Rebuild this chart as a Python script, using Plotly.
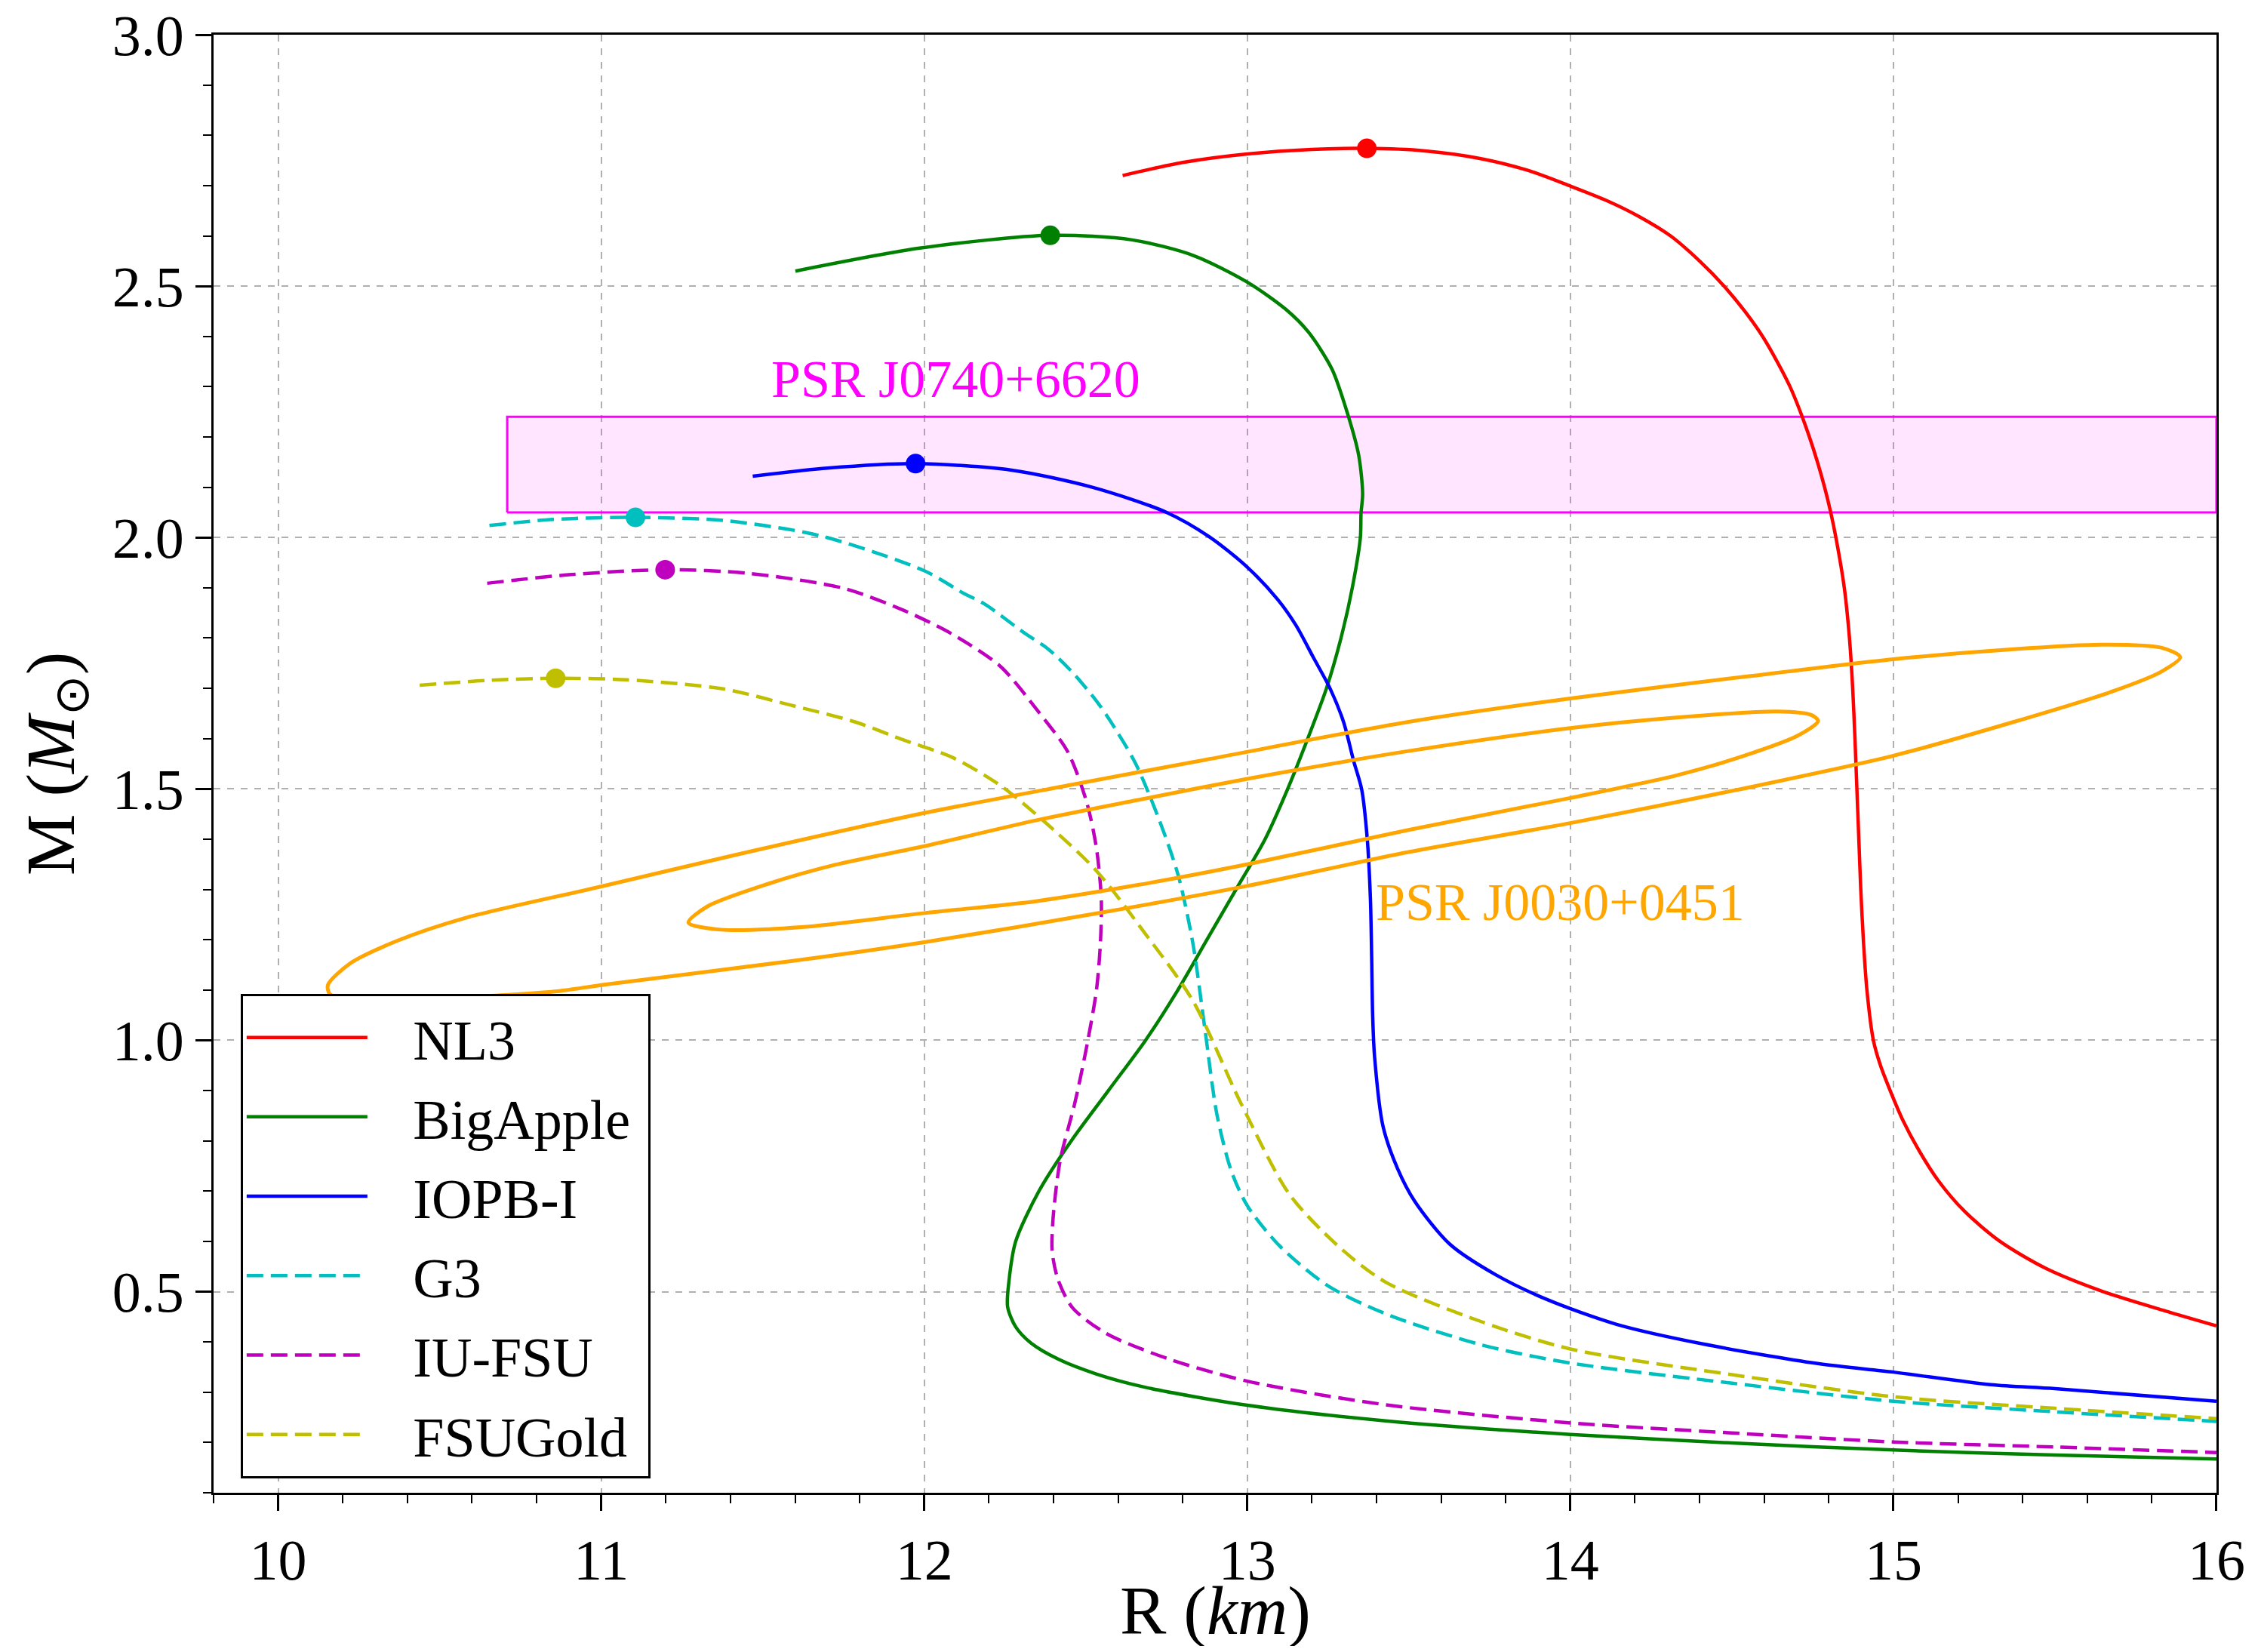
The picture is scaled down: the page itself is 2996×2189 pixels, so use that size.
import plotly.graph_objects as go

# ---------------- data ----------------
nl3_r = [12.614, 12.80, 13.0, 13.2, 13.37, 13.55, 13.72, 13.87, 14.0, 14.12, 14.214, 14.31,
         14.40, 14.476, 14.54, 14.595, 14.64, 14.68, 14.712, 14.74, 14.765, 14.787, 14.806,
         14.822, 14.848, 14.864, 14.874, 14.881,
         14.887, 14.893, 14.899, 14.907, 14.918, 14.938, 14.96, 14.99, 15.03, 15.08, 15.14,
         15.22, 15.33, 15.47, 15.65, 15.84, 16.0]
nl3_m = [2.720, 2.746, 2.763, 2.772, 2.774, 2.769, 2.754, 2.730, 2.699, 2.668, 2.638, 2.600,
         2.550, 2.500, 2.450, 2.400, 2.350, 2.300, 2.250, 2.200, 2.150, 2.100, 2.050,
         2.000, 1.900, 1.800, 1.700, 1.600,
         1.500, 1.400, 1.300, 1.200, 1.100, 1.000, 0.950, 0.900, 0.840, 0.780, 0.720,
         0.660, 0.600, 0.547, 0.500, 0.462, 0.432]

bigapple_r = [11.601, 11.99, 12.39, 12.643, 12.833, 13.0, 13.119, 13.19, 13.262, 13.31, 13.345,
              13.357, 13.352, 13.350, 13.325, 13.290, 13.245, 13.187, 13.125, 13.055, 12.965,
              12.875, 12.785, 12.685, 12.570, 12.455, 12.355, 12.283, 12.262, 12.258, 12.283,
              12.330, 12.414, 12.534, 12.683, 13.0, 13.428, 14.0, 14.5, 15.0, 15.5, 16.0]
bigapple_m = [2.530, 2.576, 2.601, 2.592, 2.561, 2.508, 2.454, 2.408, 2.335, 2.247, 2.163,
              2.087, 2.048, 2.000, 1.900, 1.800, 1.700, 1.600, 1.500, 1.400, 1.300,
              1.200, 1.100, 1.000, 0.900, 0.800, 0.700, 0.600, 0.520, 0.470, 0.430,
              0.398, 0.366, 0.336, 0.310, 0.274, 0.243, 0.216, 0.199, 0.185, 0.175, 0.167]

iopb_r = [11.469, 11.70, 11.973, 12.27, 12.52, 12.75, 12.881, 13.0, 13.095, 13.15, 13.204,
          13.256, 13.298, 13.329, 13.354, 13.371, 13.381, 13.385, 13.388, 13.394, 13.42,
          13.465, 13.519, 13.626, 13.768, 13.929, 14.143, 14.41, 14.766, 15.0, 15.301, 15.5, 16.0]
iopb_m = [2.122, 2.138, 2.147, 2.134, 2.100, 2.050, 2.002, 1.941, 1.876, 1.826, 1.762,
          1.700, 1.633, 1.556, 1.499, 1.403, 1.283, 1.164, 1.050, 0.967, 0.829,
          0.745, 0.679, 0.595, 0.534, 0.484, 0.435, 0.396, 0.357, 0.340, 0.315, 0.307, 0.282]

g3_r = [10.654, 10.85, 11.106, 11.377, 11.675, 12.0, 12.122, 12.186, 12.308, 12.384, 12.454,
        12.533, 12.579, 12.653, 12.727, 12.787, 12.832, 12.869, 12.906, 12.951, 13.0, 13.1,
        13.249, 13.428, 13.726, 14.0, 14.5, 15.0, 15.5, 16.0]
g3_m = [2.024, 2.036, 2.040, 2.034, 2.004, 1.934, 1.889, 1.868, 1.811, 1.778, 1.735,
        1.675, 1.632, 1.552, 1.439, 1.326, 1.191, 1.021, 0.852, 0.739, 0.671, 0.591,
        0.512, 0.456, 0.394, 0.358, 0.318, 0.282, 0.261, 0.242]

iufsu_r = [10.647, 10.90, 11.198, 11.452, 11.75, 11.937, 12.086, 12.235, 12.354, 12.444, 12.503,
           12.533, 12.548, 12.545, 12.533, 12.503, 12.466, 12.421, 12.399, 12.396, 12.414,
           12.459, 12.563, 12.757, 13.0, 13.428, 14.0, 14.5, 15.0, 15.5, 16.0]
iufsu_m = [1.909, 1.926, 1.936, 1.929, 1.899, 1.855, 1.808, 1.744, 1.653, 1.574, 1.473,
           1.382, 1.281, 1.191, 1.100, 0.988, 0.875, 0.762, 0.648, 0.580, 0.524,
           0.468, 0.417, 0.366, 0.322, 0.275, 0.239, 0.219, 0.201, 0.191, 0.180]

fsugold_r = [10.438, 10.65, 10.859, 11.079, 11.377, 11.578, 11.787, 11.937, 12.086, 12.235,
             12.384, 12.533, 12.683, 12.832, 12.98, 13.13, 13.279, 13.428, 13.726, 14.0,
             14.5, 15.0, 15.5, 16.0]
fsugold_m = [1.706, 1.716, 1.720, 1.717, 1.699, 1.668, 1.633, 1.597, 1.563, 1.507,
             1.428, 1.337, 1.213, 1.078, 0.875, 0.694, 0.592, 0.519, 0.440, 0.386,
             0.335, 0.291, 0.268, 0.2475]

# PSR J0030+0451 credible contours
outer_r = [10.154, 10.223, 10.369, 10.577, 10.994, 11.411, 12.0, 12.454, 12.871, 13.496, 14.0,
           14.538, 15.0, 15.371, 15.642, 15.829, 15.888, 15.829, 15.683, 15.371, 15.0, 14.538,
           14.0, 13.496, 13.0, 12.558, 12.0, 11.619, 11.0, 10.87, 10.5, 10.25, 10.16, 10.154]
outer_m = [1.110, 1.153, 1.198, 1.243, 1.305, 1.368, 1.452, 1.508, 1.558, 1.633, 1.680,
           1.723, 1.758, 1.778, 1.787, 1.781, 1.762, 1.733, 1.695, 1.633, 1.566, 1.501,
           1.432, 1.374, 1.307, 1.255, 1.195, 1.160, 1.110, 1.098, 1.083, 1.080, 1.092, 1.110]
inner_r = [11.27, 11.328, 11.516, 11.724, 12.0, 12.35, 12.662, 13.0, 13.496, 14.0, 14.329,
           14.642, 14.746, 14.767, 14.704, 14.538, 14.329, 14.0, 13.496, 13.0, 12.662, 12.35,
           12.0, 11.619, 11.37, 11.27]
inner_m = [1.234, 1.266, 1.311, 1.349, 1.386, 1.438, 1.478, 1.520, 1.575, 1.621, 1.642,
           1.654, 1.647, 1.635, 1.606, 1.566, 1.527, 1.482, 1.418, 1.350, 1.309, 1.277,
           1.253, 1.225, 1.220, 1.234]

# PSR J0740+6620 mass band
psr0740_r = [10.709, 16.0]
psr0740_m = [2.05, 2.24]

x_ticks = [10, 11, 12, 13, 14, 15, 16]
y_ticks = [0.5, 1.0, 1.5, 2.0, 2.5, 3.0]

FONT = "Liberation Serif"
NB = "\u00a0"

fig = go.Figure()

# mass band
fig.add_trace(go.Scatter(
    x=[psr0740_r[0], psr0740_r[1], psr0740_r[1], psr0740_r[0], psr0740_r[0]],
    y=[psr0740_m[0], psr0740_m[0], psr0740_m[1], psr0740_m[1], psr0740_m[0]],
    mode="lines", fill="toself", fillcolor="rgba(255,0,255,0.1)",
    line=dict(color="#FF00FF", width=3), showlegend=False, hoverinfo="skip"))

series = [
    ("NL3", nl3_r, nl3_m, "#FF0000", "solid"),
    ("BigApple", bigapple_r, bigapple_m, "#008000", "solid"),
    ("IOPB-I", iopb_r, iopb_m, "#0000FF", "solid"),
    ("G3", g3_r, g3_m, "#00BFBF", "22px,10px"),
    ("IU-FSU", iufsu_r, iufsu_m, "#BF00BF", "22px,10px"),
    ("FSUGold", fsugold_r, fsugold_m, "#BFBF00", "22px,10px"),
]

for name, r, m, col, dash in series:
    fig.add_trace(go.Scatter(x=r, y=m, mode="lines", name=NB * 3 + name + NB,
                             legendgroup=name,
                             line=dict(color=col, width=4.5, dash=dash,
                                       shape="spline", smoothing=0.8)))

for name, r, m, col, dash in series:
    i = m.index(max(m))
    fig.add_trace(go.Scatter(x=[r[i]], y=[m[i]], mode="markers", showlegend=False,
                             marker=dict(color=col, size=26), hoverinfo="skip"))

for r, m in [(outer_r, outer_m), (inner_r, inner_m)]:
    fig.add_trace(go.Scatter(x=r, y=m, mode="lines", showlegend=False,
                             line=dict(color="#FFA500", width=5, shape="spline",
                                       smoothing=0.8),
                             hoverinfo="skip"))

fig.add_annotation(x=12.097, y=2.315, text="PSR J0740+6620", showarrow=False,
                   font=dict(family=FONT, size=70, color="#FF00FF"))
fig.add_annotation(x=13.968, y=1.274, text="PSR J0030+0451", showarrow=False,
                   font=dict(family=FONT, size=70, color="#FFA500"))

# x-axis title (placed as paper-referenced text below the tick labels)
fig.add_annotation(xref="paper", yref="paper", x=0.5, y=-0.081, yanchor="middle",
                   text="R (<i>km</i>)", showarrow=False,
                   font=dict(family=FONT, size=92, color="black"))

axis_common = dict(
    showline=True, linecolor="black", linewidth=3, mirror=True,
    ticks="outside", ticklen=21, tickwidth=3, tickcolor="black",
    showgrid=True, gridcolor="#b0b0b0", gridwidth=2, griddash="dash",
    zeroline=False, automargin=False, ticklabeloverflow="allow",
    tickfont=dict(family=FONT, size=76, color="black"),
)

fig.update_xaxes(range=[9.8, 16.0001], tickvals=x_ticks,
                 minor=dict(dtick=0.2, tick0=10, ticklen=11, tickwidth=2,
                            tickcolor="black", ticks="outside", showgrid=False),
                 **axis_common)
fig.update_yaxes(range=[0.1, 3.0001], tickvals=y_ticks, tickformat=".1f",
                 minor=dict(dtick=0.1, tick0=0, ticklen=11, tickwidth=2,
                            tickcolor="black", ticks="outside", showgrid=False),
                 title=dict(text="M (<i>M</i><sub>⊙</sub>)",
                            font=dict(family=FONT, size=92, color="black"), standoff=20),
                 **axis_common)

# page body has an 8px default margin -> figure sized to fit the window
fig.update_layout(
    width=2980, height=2173,
    margin=dict(l=275, r=51, t=38, b=203, autoexpand=False),
    paper_bgcolor="white", plot_bgcolor="white",
    font=dict(family=FONT, color="black"),
    legend=dict(x=0.0135, y=0.0098, xanchor="left", yanchor="bottom",
                bgcolor="white", bordercolor="black", borderwidth=3,
                font=dict(family=FONT, size=74, color="black"),
                itemwidth=160, tracegroupgap=6, traceorder="grouped"),
    showlegend=True,
)

fig.write_html("out.html")
